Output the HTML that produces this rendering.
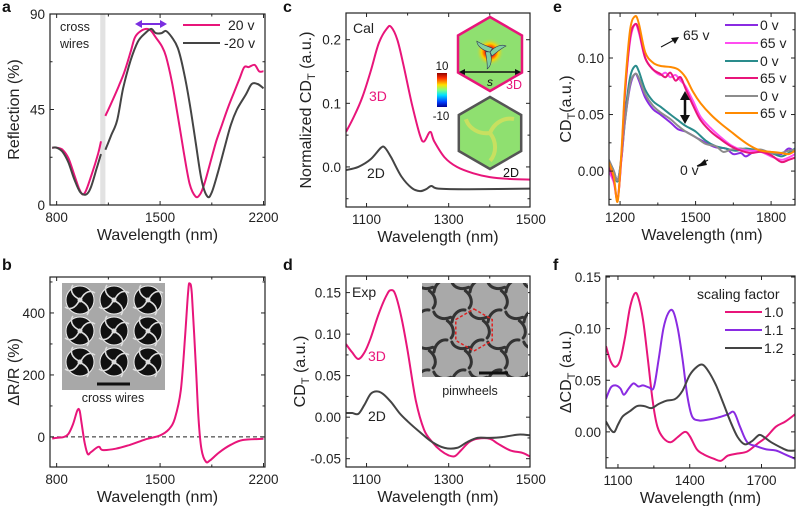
<!DOCTYPE html>
<html><head><meta charset="utf-8">
<style>
html,body{margin:0;padding:0;background:#fff;}
svg{display:block;font-family:"Liberation Sans",Arial,sans-serif;}
</style></head>
<body>
<svg id="fig" width="796" height="506" viewBox="0 0 796 506" xmlns="http://www.w3.org/2000/svg">
<defs>
<linearGradient id="jet" x1="0" y1="1" x2="0" y2="0">
<stop offset="0" stop-color="#00008f"/><stop offset="0.15" stop-color="#0040ff"/><stop offset="0.35" stop-color="#00e0ff"/>
<stop offset="0.5" stop-color="#80ff80"/><stop offset="0.65" stop-color="#ffe000"/><stop offset="0.85" stop-color="#ff3000"/><stop offset="1" stop-color="#900000"/>
</linearGradient>
<radialGradient id="swirl" cx="0.5" cy="0.5" r="0.5">
<stop offset="0" stop-color="#2060ff"/><stop offset="0.35" stop-color="#ff3000"/><stop offset="0.6" stop-color="#ffd000"/><stop offset="1" stop-color="#8fe070" stop-opacity="0"/>
</radialGradient>
</defs>
<g id="plots"></g>
<g id="deco"></g>
</svg>
<script>
// ---------- DATA ----------
const aWl20 = [770,800,840,880,920,950,975,1000,1040,1080,1100,null,1130,1170,1220,1260,1300,1330,1370,1410,1440,1470,1510,1540,1580,1620,1660,1700,1740,1770,1800,1840,1880,1920,1960,2000,2040,2070,2100,2140,2170,2200];
const aR20  = [27,27,26,22,14,8,5,7,15,24,30,null,42,48,56,63,72,79,82,83,82,79,75,70,58,42,25,10,4,5,10,20,30,38,46,53,60,65,65,66,63,63];
const aWlm20 = [770,800,840,880,920,960,1000,1030,1070,1100,null,1130,1170,1210,1250,1300,1350,1400,1440,1470,1510,1540,1580,1620,1660,1700,1740,1780,1820,1850,1890,1940,1980,2020,2080,2120,2160,2200];
const aRm20  = [27,27,25,20,12,6,5,8,17,24,null,26,33,40,55,68,77,81,83,81,81,82,79,74,63,48,30,12,4,6,15,28,38,45,52,57,57,55];
const aXTicks = [800,1500,2200];
const aYTicks = [0,45,90];
const bWl = [770,800,850,880,910,940,955,970,990,1010,1030,1070,1090,1110,1200,1300,1400,1500,1560,1600,1640,1670,1690,1700,1715,1740,1760,1780,1810,1840,1900,1980,2060,2200];
const bDR = [-5,-3,0,10,40,85,85,40,-20,-55,-50,-35,-32,-42,-38,-25,-8,5,25,60,150,330,470,495,460,250,60,-40,-80,-75,-50,-25,-10,-6];
const bXTicks = [800,1500,2200];
const bYTicks = [0,200,400];
const cWl3D = [1050,1070,1090,1110,1130,1150,1160,1175,1190,1210,1230,1240,1255,1265,1290,1320,1360,1400,1450,1500];
const cCD3D = [0.055,0.08,0.11,0.15,0.195,0.218,0.22,0.2,0.16,0.1,0.05,0.04,0.055,0.04,0.015,0,-0.01,-0.016,-0.019,-0.02];
const cWl2D = [1050,1080,1110,1135,1145,1160,1185,1210,1230,1245,1258,1275,1350,1500];
const cCD2D = [-0.005,0,0.012,0.03,0.03,0.015,-0.015,-0.033,-0.038,-0.035,-0.03,-0.034,-0.035,-0.034];
const cXTicks = [1100,1300,1500];
const cYTicks = [0.0,0.1,0.2];
const dWl3D = [1050,1065,1080,1095,1110,1130,1150,1160,1170,1185,1200,1220,1240,1260,1280,1300,1315,1330,1350,1370,1400,1420,1450,1480,1500];
const dCD3D = [0.088,0.078,0.07,0.078,0.095,0.125,0.148,0.153,0.148,0.12,0.08,0.02,-0.015,-0.03,-0.04,-0.046,-0.047,-0.04,-0.03,-0.026,-0.026,-0.032,-0.04,-0.043,-0.048];
const dWl2D = [1050,1065,1080,1095,1110,1125,1140,1160,1180,1200,1230,1260,1290,1320,1345,1370,1400,1430,1470,1500];
const dCD2D = [0.005,0.005,0.004,0.015,0.028,0.031,0.028,0.018,0.005,-0.005,-0.018,-0.03,-0.037,-0.037,-0.03,-0.025,-0.025,-0.024,-0.021,-0.022];
const dXTicks = [1100,1300,1500];
const dYTicks = [-0.05,0.00,0.05,0.10,0.15];
const eWlPurple = [1155,1175,1190,1205,1220,1240,1260,1275,1300,1330,1360,1400,1430,1460,1500,1540,1580,1620,1650,1680,1700,1730,1760,1800,1840,1870,1895];
const eCDPurple = [0.01,0.0,-0.008,0.01,0.045,0.075,0.086,0.08,0.065,0.055,0.05,0.043,0.037,0.035,0.03,0.025,0.021,0.02,0.015,0.016,0.013,0.017,0.018,0.016,0.015,0.02,0.017];
const eWlTeal = [1155,1175,1190,1205,1220,1240,1260,1275,1300,1330,1360,1400,1430,1460,1500,1540,1580,1620,1660,1700,1750,1800,1840,1870,1895];
const eCDTeal = [0.01,0.0,-0.009,0.012,0.05,0.083,0.093,0.088,0.072,0.062,0.057,0.05,0.045,0.04,0.035,0.027,0.022,0.02,0.018,0.02,0.018,0.016,0.013,0.016,0.02];
const eWlGrey = [1155,1175,1190,1205,1220,1240,1260,1275,1300,1330,1360,1400,1430,1460,1500,1540,1580,1610,1640,1680,1720,1760,1800,1840,1870,1895];
const eCDGrey = [0.01,0.0,-0.008,0.01,0.045,0.077,0.086,0.082,0.068,0.058,0.052,0.046,0.04,0.035,0.03,0.024,0.022,0.017,0.019,0.02,0.018,0.019,0.016,0.016,0.018,0.019];
const eWlMagenta = [1155,1175,1190,1205,1220,1240,1260,1275,1300,1330,1360,1380,1400,1420,1440,1460,1490,1520,1560,1600,1640,1680,1720,1760,1800,1840,1870,1895];
const eCDMagenta = [0.0,-0.01,-0.025,0.01,0.07,0.115,0.13,0.122,0.1,0.09,0.085,0.087,0.083,0.085,0.08,0.075,0.062,0.048,0.038,0.03,0.023,0.019,0.018,0.017,0.013,0.01,0.012,0.015];
const eWlPink = [1155,1175,1190,1205,1220,1240,1260,1275,1300,1330,1360,1380,1400,1420,1440,1460,1490,1520,1560,1600,1640,1680,1720,1760,1800,1840,1870,1895];
const eCDPink = [0.005,-0.008,-0.025,0.012,0.07,0.118,0.13,0.124,0.1,0.09,0.086,0.083,0.087,0.08,0.083,0.073,0.058,0.045,0.035,0.028,0.022,0.018,0.016,0.017,0.014,0.008,0.01,0.012];
const eWlOrange = [1155,1175,1190,1205,1220,1240,1260,1275,1300,1330,1360,1400,1430,1460,1490,1520,1560,1600,1640,1680,1720,1760,1800,1840,1870,1895];
const eCDOrange = [0.008,-0.005,-0.027,0.015,0.075,0.125,0.137,0.13,0.105,0.096,0.093,0.092,0.09,0.083,0.07,0.06,0.05,0.042,0.035,0.028,0.022,0.018,0.017,0.016,0.015,0.018];
const eLegendLabels = ["0 v","65 v","0 v","65 v","0 v","65 v"];
const eXTicks = [1200,1500,1800];
const eYTicks = [0.00,0.05,0.10];
const fWl10 = [1050,1070,1090,1110,1130,1150,1170,1185,1205,1225,1245,1265,1290,1320,1350,1380,1400,1430,1460,1500,1530,1560,1600,1640,1680,1720,1760,1800,1840];
const fCD10 = [0.083,0.068,0.063,0.07,0.092,0.12,0.134,0.13,0.108,0.07,0.03,0.005,-0.006,-0.01,-0.005,0.0,-0.004,-0.017,-0.022,-0.026,-0.028,-0.023,-0.021,-0.019,-0.012,-0.005,0.005,0.01,0.017];
const fWl11 = [1050,1070,1090,1110,1125,1145,1165,1185,1205,1230,1250,1270,1290,1310,1330,1350,1370,1390,1410,1440,1480,1520,1560,1585,1610,1640,1680,1720,1760,1800,1840];
const fCD11 = [0.032,0.043,0.045,0.042,0.036,0.042,0.047,0.044,0.045,0.043,0.043,0.07,0.1,0.115,0.117,0.1,0.07,0.035,0.015,0.011,0.012,0.014,0.017,0.019,0.005,-0.01,-0.014,-0.017,-0.018,-0.022,-0.026];
const fWl12 = [1050,1070,1085,1100,1120,1150,1180,1210,1240,1270,1300,1340,1370,1400,1430,1455,1480,1510,1540,1570,1600,1630,1660,1690,1710,1740,1780,1810,1840];
const fCD12 = [0.01,0.002,0.0,0.007,0.015,0.02,0.025,0.025,0.023,0.027,0.03,0.032,0.04,0.055,0.063,0.065,0.058,0.045,0.028,0.01,-0.005,-0.012,-0.009,-0.003,-0.005,-0.01,-0.015,-0.018,-0.018];
const fLegendLabels = ["1.0","1.1","1.2"];
const fXTicks = [1100,1400,1700];
const fYTicks = [0.00,0.05,0.10,0.15];

// ---------- DRAWING ----------
const NS = "http://www.w3.org/2000/svg";
const root = document.getElementById('plots');
function mk(tag, attrs, parent, text){
  const e = document.createElementNS(NS, tag);
  for (const k in attrs) e.setAttribute(k, attrs[k]);
  if (text !== undefined) e.textContent = text;
  (parent||root).appendChild(e);
  return e;
}
function scale(d0,d1,r0,r1){ return v => r0 + (v-d0)/(d1-d0)*(r1-r0); }
function smoothPath(pts){
  let d = "";
  for (let i=0;i<pts.length;i++){
    const p = pts[i];
    if (i===0){ d += "M"+p[0].toFixed(1)+","+p[1].toFixed(1); continue; }
    const p0 = pts[Math.max(0,i-2)], p1 = pts[i-1], p3 = pts[Math.min(pts.length-1,i+1)];
    const c1x = p1[0]+(p[0]-p0[0])/6, c1y = p1[1]+(p[1]-p0[1])/6;
    const c2x = p[0]-(p3[0]-p1[0])/6, c2y = p[1]-(p3[1]-p1[1])/6;
    d += "C"+c1x.toFixed(1)+","+c1y.toFixed(1)+" "+c2x.toFixed(1)+","+c2y.toFixed(1)+" "+p[0].toFixed(1)+","+p[1].toFixed(1);
  }
  return d;
}
function drawSeries(g, xs, ys, sx, sy, color, name){
  let seg = [], d = "";
  for (let i=0;i<=xs.length;i++){
    if (i===xs.length || xs[i]===null){ if (seg.length>1) d += smoothPath(seg); seg=[]; continue; }
    seg.push([sx(xs[i]), sy(ys[i])]);
  }
  const p = mk('path', {d:d, fill:'none', stroke:color, 'stroke-width':2, 'stroke-linejoin':'round'}, g);
  
  
  return p;
}
function panel(cfg){
  const g = mk('g', {});
  
  
  const f = cfg.frame;
  const sx = scale(cfg.xd[0], cfg.xd[1], f.l, f.r);
  const sy = scale(cfg.yd[0], cfg.yd[1], f.b, f.t);
  const clipId = 'clip-'+cfg.name;
  const cp = mk('clipPath', {id:clipId}, g);
  mk('rect', {x:f.l, y:f.t, width:f.r-f.l, height:f.b-f.t}, cp);
  const inner = mk('g', {'clip-path':'url(#'+clipId+')'}, g);
  if (cfg.pre) cfg.pre(inner, sx, sy);
  cfg.series.forEach(s => drawSeries(inner, s.x, s.y, sx, sy, s.color, s.name));
  const fr = mk('rect', {x:f.l, y:f.t, width:f.r-f.l, height:f.b-f.t, fill:'none', stroke:'#222', 'stroke-width':1.2}, g);
  
  
  const xg = mk('g', {}, g);
  
  
  const xstep = cfg.xt[1]-cfg.xt[0];
  for (let v = cfg.xt[0]-xstep; v <= cfg.xt[cfg.xt.length-1]+xstep; v += xstep/2){
    const x = sx(v); if (x < f.l-0.5 || x > f.r+0.5) continue;
    const major = cfg.xt.some(t => Math.abs(t-v) < 1e-6);
    const L = major ? 4 : 2.5;
    mk('line', {x1:x, x2:x, y1:f.b, y2:f.b-L, stroke:'#222', 'stroke-width':1}, xg);
    mk('line', {x1:x, x2:x, y1:f.t, y2:f.t+L, stroke:'#222', 'stroke-width':1}, xg);
  }
  cfg.xt.forEach(v => {
    const t = mk('text', {x:sx(v), y:f.b+17, 'font-size':13.5, 'text-anchor':'middle', fill:'#222'}, xg, String(v));
    
    
  });
  const xt = mk('text', {x:(f.l+f.r)/2, y:f.b+35, 'font-size':16, 'text-anchor':'middle', fill:'#222'}, g, 'Wavelength (nm)');
  
  
  const yg = mk('g', {}, g);
  
  
  const ystep = cfg.yt[1]-cfg.yt[0];
  for (let k = -4; k <= cfg.yt.length*2+4; k++){
    const v = cfg.yt[0] + k*ystep/2;
    const y = sy(v); if (y < f.t-0.5 || y > f.b+0.5) continue;
    const L = (k%2===0) ? 4 : 2.5;
    mk('line', {x1:f.l, x2:f.l+L, y1:y, y2:y, stroke:'#222', 'stroke-width':1}, yg);
    mk('line', {x1:f.r, x2:f.r-L, y1:y, y2:y, stroke:'#222', 'stroke-width':1}, yg);
  }
  cfg.yt.forEach(v => {
    const t = mk('text', {x:f.l-5, y:sy(v)+5, 'font-size':13.5, 'text-anchor':'end', fill:'#222'}, yg, v.toFixed(cfg.ydec));
    
    
  });
  const yt = mk('text', {x:0, y:0, 'font-size':16, 'text-anchor':'middle', fill:'#222', transform:'translate('+cfg.ytx+','+((f.t+f.b)/2)+') rotate(-90)'}, g);
  yt.innerHTML = cfg.ytitle;
  
  
  const lt = mk('text', {x:cfg.letter[1], y:cfg.letter[2], 'font-size':16, 'font-weight':'bold', fill:'#111'}, g, cfg.letter[0]);
  
  
  return {g, sx, sy};
}
const PINK = '#e8157a', DARK = '#444';

panel({name:'panel-a', frame:{l:50,r:265,t:14,b:205}, xd:[755,2210], yd:[0,90], xt:aXTicks, yt:aYTicks, ydec:0,
  ytitle:'Reflection (%)', ytx:19, letter:['a',2,12],
  pre:(g,sx,sy)=>{ const r=mk('rect',{x:sx(1095),y:14,width:sx(1130)-sx(1095),height:191,fill:'#e2e2e2'},g);
      },
  series:[{x:aWl20,y:aR20,color:PINK,name:'series-20v'},{x:aWlm20,y:aRm20,color:DARK,name:'series-minus20v'}]});
panel({name:'panel-b', frame:{l:50,r:265,t:277,b:467}, xd:[755,2210], yd:[-97,516], xt:bXTicks, yt:bYTicks, ydec:0,
  ytitle:'ΔR/R (%)', ytx:19, letter:['b',2,270],
  pre:(g,sx,sy)=>{ const l=mk('line',{x1:50,x2:265,y1:sy(0),y2:sy(0),stroke:'#222','stroke-width':1,'stroke-dasharray':'4,3'},g);
      },
  series:[{x:bWl,y:bDR,color:PINK,name:'series-delta-r'}]});
panel({name:'panel-c', frame:{l:346,r:530,t:13,b:207}, xd:[1050,1498], yd:[-0.063,0.242], xt:cXTicks, yt:cYTicks, ydec:1,
  ytitle:'Normalized CD<tspan font-size="11" dy="4">T</tspan><tspan dy="-4"> (a.u.)</tspan>', ytx:311, letter:['c',283,12],
  series:[{x:cWl3D,y:cCD3D,color:PINK,name:'series-3d'},{x:cWl2D,y:cCD2D,color:DARK,name:'series-2d'}]});
panel({name:'panel-d', frame:{l:346,r:530,t:276,b:467}, xd:[1050,1498], yd:[-0.060,0.170], xt:dXTicks, yt:dYTicks, ydec:2,
  ytitle:'CD<tspan font-size="11" dy="4">T</tspan><tspan dy="-4"> (a.u.)</tspan>', ytx:305, letter:['d',283,270],
  series:[{x:dWl3D,y:dCD3D,color:PINK,name:'series-3d'},{x:dWl2D,y:dCD2D,color:DARK,name:'series-2d'}]});
const eColors = ['#8a2be2','#ff4df0','#2a8c8c',PINK,'#8c8c8c','#ff8a00'];
panel({name:'panel-e', frame:{l:609,r:795,t:13,b:205}, xd:[1156,1895], yd:[-0.030,0.1398], xt:eXTicks, yt:eYTicks, ydec:2,
  ytitle:'CD<tspan font-size="11" dy="4">T</tspan><tspan dy="-4">(a.u.)</tspan>', ytx:571, letter:['e',553,12],
  series:[{x:eWlPurple,y:eCDPurple,color:eColors[0],name:'series-0v-a'},{x:eWlTeal,y:eCDTeal,color:eColors[2],name:'series-0v-b'},
          {x:eWlGrey,y:eCDGrey,color:eColors[4],name:'series-0v-c'},{x:eWlMagenta,y:eCDMagenta,color:eColors[1],name:'series-65v-a'},
          {x:eWlPink,y:eCDPink,color:eColors[3],name:'series-65v-b'},{x:eWlOrange,y:eCDOrange,color:eColors[5],name:'series-65v-c'}]});
const fColors = [PINK,'#8a2be2',DARK];
panel({name:'panel-f', frame:{l:606,r:795,t:276,b:468}, xd:[1050,1840], yd:[-0.035,0.151], xt:fXTicks, yt:fYTicks, ydec:2,
  ytitle:'ΔCD<tspan font-size="11" dy="4">T</tspan><tspan dy="-4"> (a.u.)</tspan>', ytx:571, letter:['f',553,270],
  series:[{x:fWl10,y:fCD10,color:fColors[0],name:'series-1-0'},{x:fWl11,y:fCD11,color:fColors[1],name:'series-1-1'},{x:fWl12,y:fCD12,color:fColors[2],name:'series-1-2'}]});

// ---------- DECORATIONS ----------
const deco = document.getElementById('deco');
function dm(tag, attrs, text){ return mk(tag, attrs, deco, text); }
let e;
e = dm('line',{x1:183,x2:220,y1:25,y2:25,stroke:PINK,'stroke-width':2});  
e = dm('text',{x:228,y:30,'font-size':14,fill:'#222'},'20 v');  
e = dm('line',{x1:183,x2:220,y1:43,y2:43,stroke:DARK,'stroke-width':2});  
e = dm('text',{x:224,y:48,'font-size':14,fill:'#222'},'-20 v');  
e = dm('text',{x:60,y:31,'font-size':12.5,fill:'#222'},'cross');  
dm('text',{x:60,y:48,'font-size':12.5,fill:'#222'},'wires');
e = dm('g',{});  
mk('line',{x1:140,x2:162,y1:24,y2:24,stroke:'#7a2ee0','stroke-width':2},e);
mk('polygon',{points:'135,24 142,20 142,28',fill:'#7a2ee0'},e);
mk('polygon',{points:'167,24 160,20 160,28',fill:'#7a2ee0'},e);

// panel b inset SEM
e = dm('g',{});  
mk('rect',{x:62,y:283,width:103,height:107,fill:'#a8a8a8'},e);
for (let r=0;r<3;r++) for (let c=0;c<3;c++){
  const cx = 80+c*34, cy = 300+r*31;
  const pw = mk('g',{transform:'translate('+cx+','+cy+')'},e);
  mk('circle',{r:14,fill:'#111',stroke:'#eee','stroke-width':1},pw);
  for (let k=0;k<4;k++){
    mk('path',{d:'M1,-1 C5,-9 11,-10 15,-7',fill:'none',stroke:'#ddd','stroke-width':1.6,transform:'rotate('+(k*90)+')'},pw);
  }
  mk('circle',{r:2.5,fill:'#ddd'},pw);
}
mk('line',{x1:97,x2:130,y1:384,y2:384,stroke:'#111','stroke-width':3},e);
e = dm('text',{x:113,y:402,'font-size':12.5,'text-anchor':'middle',fill:'#222'},'cross wires');  

// panel c labels & insets
e = dm('text',{x:353,y:33,'font-size':14,fill:'#222'},'Cal');  
e = dm('text',{x:369,y:101,'font-size':14,fill:PINK},'3D');  
e = dm('text',{x:367,y:178,'font-size':14,fill:'#222'},'2D');  
function hex(cx,cy,R){ let p=[]; for(let k=0;k<6;k++){const a=Math.PI/180*(60*k-90); p.push((cx+R*Math.cos(a)).toFixed(1)+','+(cy+R*Math.sin(a)).toFixed(1));} return p.join(' '); }
e = dm('g',{});  
mk('polygon',{points:hex(490,54,37),fill:'#8fe070',stroke:PINK,'stroke-width':2.5},e);
mk('circle',{cx:490,cy:52,r:14,fill:'url(#swirl)'},e);
for (let k=0;k<3;k++) mk('path',{d:'M0,0 C5,-6 12,-8 16,-6 C10,-3 6,1 2,4 Z',fill:'#7fd0a0',stroke:'#335','stroke-width':0.6,transform:'translate(490,52) rotate('+(k*120)+')'},e);
mk('line',{x1:463,x2:517,y1:72,y2:72,stroke:'#111','stroke-width':1.5},e);
mk('polygon',{points:'459,72 465,69 465,75',fill:'#111'},e);
mk('polygon',{points:'521,72 515,69 515,75',fill:'#111'},e);
mk('text',{x:487,y:86,'font-size':12,'font-style':'italic',fill:'#111'},e,'s');
mk('text',{x:506,y:89,'font-size':12.5,fill:PINK},e,'3D');
e = dm('g',{});  
mk('polygon',{points:hex(490,133,36),fill:'#8fe070',stroke:'#555','stroke-width':2.5},e);
for (let k=0;k<3;k++) mk('path',{d:'M0,0 C4,-10 14,-16 24,-14',fill:'none',stroke:'#c8e060','stroke-width':4,transform:'translate(490,133) rotate('+(k*120)+')'},e);
mk('text',{x:503,y:177,'font-size':12.5,fill:'#111'},e,'2D');
e = dm('g',{});  
mk('rect',{x:437,y:73,width:10,height:34,fill:'url(#jet)'},e);
mk('text',{x:442,y:70,'font-size':11.5,'text-anchor':'middle',fill:'#111'},e,'10');
mk('text',{x:441,y:120,'font-size':11.5,'text-anchor':'middle',fill:'#111'},e,'-10');

// panel d labels & inset
e = dm('text',{x:352,y:297,'font-size':14,fill:'#222'},'Exp');  
e = dm('text',{x:368,y:361,'font-size':14,fill:PINK},'3D');  
e = dm('text',{x:368,y:421,'font-size':14,fill:'#222'},'2D');  
e = dm('g',{});  
mk('rect',{x:422,y:283,width:106,height:94,fill:'#a9a9a9'},e);
const pcp = mk('clipPath',{id:'semclip'},e); mk('rect',{x:422,y:283,width:106,height:94},pcp);
const sg = mk('g',{'clip-path':'url(#semclip)'},e);
for (let r=0;r<4;r++) for (let c=-1;c<4;c++){
  const cx = 432+c*36+(r%2?18:0), cy = 290+r*30;
  for (let k=0;k<3;k++) mk('path',{d:'M2,2 C3,-6 9,-11 15,-10',fill:'none',stroke:'#333','stroke-width':3,'stroke-linecap':'round',transform:'translate('+cx+','+cy+') rotate('+(k*120)+')'},sg);
}
mk('polygon',{points:hex(474,330,21),fill:'none',stroke:'#e02020','stroke-width':1.5,'stroke-dasharray':'3,2'},e);
mk('line',{x1:479,x2:508,y1:373,y2:373,stroke:'#111','stroke-width':3},e);
e = dm('text',{x:470,y:395,'font-size':12.5,'text-anchor':'middle',fill:'#222'},'pinwheels');  

// panel e legend & annotations
const eRows = [25,43,61,78,96,113];
eLegendLabels.forEach((lab,i)=>{
  const s = dm('line',{x1:725,x2:758,y1:eRows[i],y2:eRows[i],stroke:eColors[i],'stroke-width':2});
  
  
  const t = dm('text',{x:760,y:eRows[i]+5,'font-size':14,fill:'#222'},lab);
  
  
});
e = dm('text',{x:683,y:40,'font-size':14,fill:'#222'},'65 v');  
dm('line',{x1:661,y1:47,x2:674,y2:40,stroke:'#111','stroke-width':1});
dm('polygon',{points:'679,37 671,38 675,44',fill:'#111'});
e = dm('text',{x:680,y:175,'font-size':14,fill:'#222'},'0 v');  
dm('line',{x1:697,y1:166,x2:708,y2:160,stroke:'#111','stroke-width':1});
dm('polygon',{points:'697,167 705,159 707,165',fill:'#111'});
e = dm('g',{});  
mk('line',{x1:685,x2:685,y1:98,y2:118,stroke:'#111','stroke-width':2.5},e);
mk('polygon',{points:'685,91 680,100 690,100',fill:'#111'},e);
mk('polygon',{points:'685,124 680,115 690,115',fill:'#111'},e);

// panel f legend
e = dm('text',{x:697,y:299,'font-size':14,fill:'#222'},'scaling factor');  
const fRows = [312,330,348];
fLegendLabels.forEach((lab,i)=>{
  const s = dm('line',{x1:725,x2:762,y1:fRows[i],y2:fRows[i],stroke:fColors[i],'stroke-width':2});
  
  
  const t = dm('text',{x:764,y:fRows[i]+5,'font-size':14,fill:'#222'},lab);
  
  
});
</script>
</body></html>
